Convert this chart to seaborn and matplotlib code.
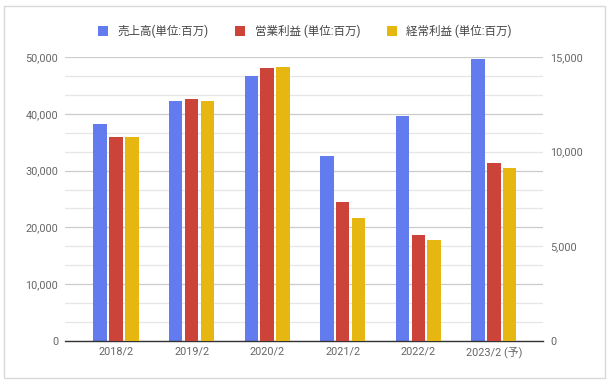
import numpy as np
import pandas as pd
import matplotlib
matplotlib.use("Agg")
import matplotlib.pyplot as plt
from matplotlib.patches import Patch, Rectangle
from matplotlib.ticker import FixedLocator, FuncFormatter
import seaborn as sns

# data
years = ["2018/2", "2019/2", "2020/2", "2021/2", "2022/2", "2023/2 (予)"]
sales = [38200, 42200, 46600, 32600, 39600, 49600]            # left axis
operating_profit = [10800, 12800, 14400, 7350, 5600, 9400]    # right axis
ordinary_profit = [10800, 12650, 14450, 6500, 5350, 9150]     # right axis

series_names = ["売上高(単位:百万)", "営業利益 (単位:百万)", "経常利益 (単位:百万)"]
colors = ["#627BEE", "#CC4439", "#E6B711"]
palette = dict(zip(series_names, colors))

left_ticks = [0, 10000, 20000, 30000, 40000, 50000]
right_ticks = [0, 5000, 10000, 15000]

df_left = pd.DataFrame({"year": years, "value": sales, "series": series_names[0]})
df_right = pd.concat([
    pd.DataFrame({"year": years, "value": operating_profit, "series": series_names[1]}),
    pd.DataFrame({"year": years, "value": ordinary_profit, "series": series_names[2]}),
])

sns.set_theme(style="white")
plt.rcParams["font.family"] = ["Roboto", "Noto Sans CJK JP", "DejaVu Sans"]

fig = plt.figure(figsize=(6.12, 3.85), dpi=100)
ax1 = fig.add_axes([65 / 612, 1 - 341 / 385, 478 / 612, 284 / 385])
ax2 = ax1.twinx()

bar_kw = dict(x="year", y="value", hue="series", hue_order=series_names,
              palette=palette, width=0.63, gap=0.15, legend=False, dodge=True,
              saturation=1, linewidth=0, errorbar=None)
sns.barplot(data=df_left, ax=ax1, **bar_kw)
sns.barplot(data=df_right, ax=ax2, **bar_kw)

ax1.set_xlim(-0.675, 5.65)
ax1.set_ylim(0, 50000)
ax2.set_ylim(0, 15000)

# gridlines: light every 1,000 of the right axis, darker at left major ticks
ax1.yaxis.set_major_locator(FixedLocator(left_ticks))
ax1.yaxis.set_minor_locator(FixedLocator(np.linspace(0, 50000, 16)))
ax1.grid(which="minor", axis="y", color="#e6e6e6", linewidth=0.9)
ax1.grid(which="major", axis="y", color="#cccccc", linewidth=0.9)
ax1.set_axisbelow(True)
ax2.grid(False)

fmt = FuncFormatter(lambda v, p: f"{int(v):,}")
ax1.yaxis.set_major_formatter(fmt)
ax2.yaxis.set_major_locator(FixedLocator(right_ticks))
ax2.yaxis.set_major_formatter(fmt)

for ax in (ax1, ax2):
    ax.set_xlabel("")
    ax.set_ylabel("")
    for s in ax.spines.values():
        s.set_visible(False)
    ax.tick_params(which="both", length=0, labelsize=7.8, labelcolor="#666666")
ax1.tick_params(axis="y", pad=5)
ax2.tick_params(axis="y", pad=5)
ax1.tick_params(axis="x", pad=4)
ax1.spines["bottom"].set_visible(True)
ax1.spines["bottom"].set_color("#333333")
ax1.spines["bottom"].set_linewidth(1.0)
ax1.spines["bottom"].set_zorder(5)

handles = [Patch(facecolor=c, edgecolor="none") for c in colors]
fig.legend(handles, series_names, loc="center", bbox_to_anchor=(0.498, 1 - 31 / 385),
           ncol=3, frameon=False, fontsize=8.3, handlelength=0.9, handleheight=0.9,
           handletextpad=0.8, columnspacing=2.3, labelcolor="#444444")

fig.patches.append(Rectangle((4 / 612, 1 - 378 / 385), 601 / 612, 372 / 385,
                             transform=fig.transFigure, fill=False,
                             edgecolor="#d9d9d9", linewidth=1.0))

fig.savefig("out.png", dpi=100)
